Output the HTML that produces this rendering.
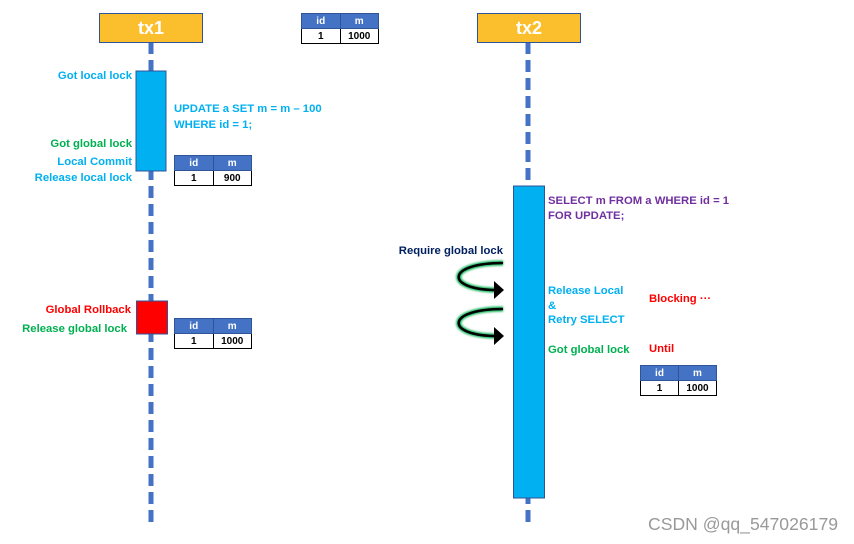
<!DOCTYPE html>
<html><head><meta charset="utf-8"><style>
body{margin:0;width:854px;height:544px;background:#fff;position:relative;overflow:hidden;font-family:"Liberation Sans",sans-serif}
.t{position:absolute;font-size:11.3px;font-weight:bold;white-space:nowrap;line-height:13px}
.r{text-align:right}
.box{position:absolute;background:#fbbf2d;border:1.5px solid #2f5597;color:#fff;font-weight:bold;font-size:18px;text-align:center;line-height:28px;box-sizing:border-box}
table{position:absolute;border-collapse:collapse;font-size:10px;font-weight:bold;text-align:center;table-layout:fixed}
td{height:14px;padding:0;border:1px solid #000;width:50%}
tr.h td{background:#4472c4;color:#fff;border-color:#2f5597}
</style></head><body>
<svg width="854" height="544" style="position:absolute;left:0;top:0">
<defs><filter id="g" x="-20%" y="-20%" width="140%" height="140%"><feGaussianBlur stdDeviation="1"/></filter></defs>
<line x1="151" y1="42" x2="151" y2="527" stroke="#4472c4" stroke-width="5" stroke-dasharray="12 6"/>
<line x1="528" y1="42" x2="528" y2="527" stroke="#4472c4" stroke-width="5" stroke-dasharray="12 6"/>
<rect x="136" y="71" width="30" height="100" fill="#00b0f0" stroke="#2f5597" stroke-width="1"/>
<rect x="136.5" y="301" width="31" height="33" fill="#ff0000" stroke="#2f5597" stroke-width="1"/>
<rect x="513.5" y="186" width="31" height="312" fill="#00b0f0" stroke="#2f5597" stroke-width="1"/>
<g fill="none">
<path d="M503 263 C445 263,445 290,497 290" stroke="#00b050" stroke-width="5" filter="url(#g)"/>
<path d="M503 263 C445 263,445 290,497 290" stroke="#000" stroke-width="2.5"/>
<path d="M503 309 C445 309,445 336,497 336" stroke="#00b050" stroke-width="5" filter="url(#g)"/>
<path d="M503 309 C445 309,445 336,497 336" stroke="#000" stroke-width="2.5"/>
</g>
<polygon points="494,281 504,290 494,299" fill="#000"/>
<polygon points="494,327 504,336 494,345" fill="#000"/>
</svg>
<div class="box" style="left:99px;top:13px;width:104px;height:30px">tx1</div>
<div class="box" style="left:477px;top:13px;width:104px;height:30px">tx2</div>
<table style="left:301px;top:13px;width:78px"><tr class="h"><td>id</td><td>m</td></tr><tr><td>1</td><td>1000</td></tr></table>
<table style="left:174px;top:155px;width:78px"><tr class="h"><td>id</td><td>m</td></tr><tr><td>1</td><td>900</td></tr></table>
<table style="left:174px;top:318px;width:78px"><tr class="h"><td>id</td><td>m</td></tr><tr><td>1</td><td>1000</td></tr></table>
<table style="left:640px;top:365px;width:77px"><tr class="h"><td>id</td><td>m</td></tr><tr><td>1</td><td>1000</td></tr></table>
<div class="t r" style="right:722px;top:70px;color:#00b0f0">Got local lock</div>
<div class="t r" style="right:722px;top:138px;color:#00b050">Got global lock</div>
<div class="t r" style="right:722px;top:156px;color:#00b0f0">Local Commit</div>
<div class="t r" style="right:722px;top:172px;color:#00b0f0">Release local lock</div>
<div class="t r" style="right:723px;top:304px;color:#ff0000">Global Rollback</div>
<div class="t r" style="right:727px;top:323px;color:#00b050">Release global lock</div>
<div class="t" style="left:174px;top:101px;color:#00b0f0;line-height:16px">UPDATE a SET m = m – 100<br>WHERE id = 1;</div>
<div class="t" style="left:548px;top:194px;color:#7030a0;line-height:15px">SELECT m FROM a WHERE id = 1<br>FOR UPDATE;</div>
<div class="t r" style="right:351px;top:245px;color:#002060">Require global lock</div>
<div class="t" style="left:548px;top:284px;color:#00b0f0;line-height:14.5px">Release Local<br>&amp;<br>Retry SELECT</div>
<div class="t" style="left:548px;top:344px;color:#00b050">Got global lock</div>
<div class="t" style="left:649px;top:293px;color:#ff0000">Blocking ···</div>
<div class="t" style="left:649px;top:343px;color:#ff0000">Until</div>
<div style="position:absolute;left:648px;top:514px;font-size:17.6px;color:#999">CSDN @qq_547026179</div>
</body></html>
